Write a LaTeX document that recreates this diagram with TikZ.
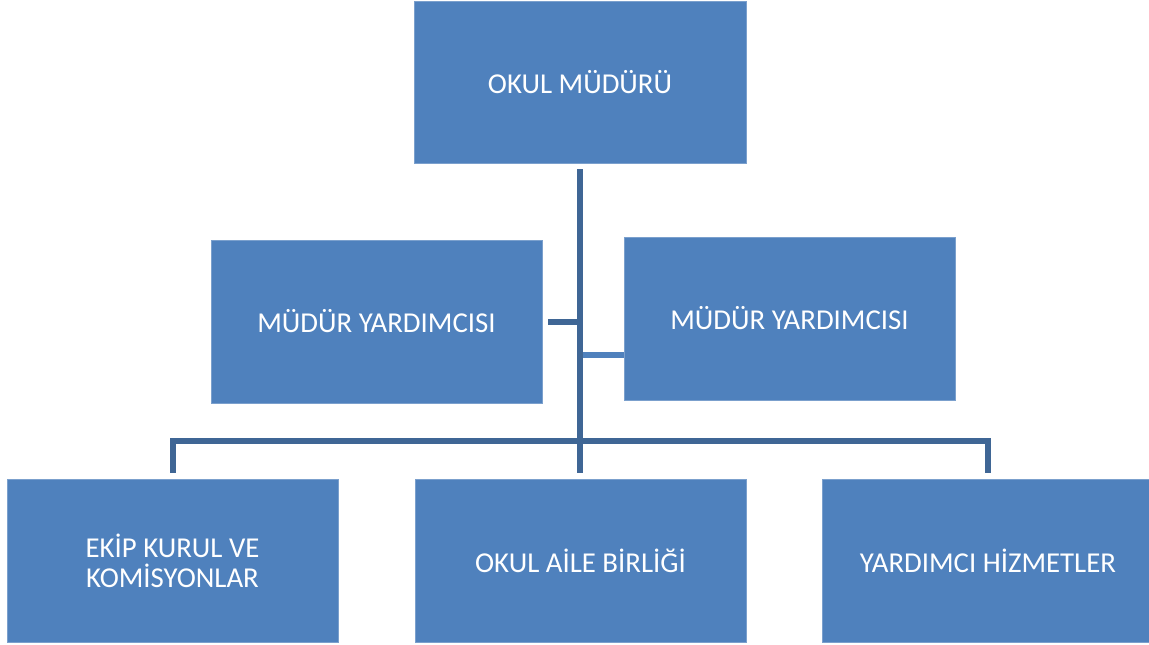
\documentclass[tikz,border=0pt]{standalone}
\usepackage{fontspec}
\setmainfont{Carlito}
\usetikzlibrary{calc}
\definecolor{boxblue}{HTML}{4F81BD}
\definecolor{lineblue}{HTML}{3F6695}
\tikzset{
    unit/.style={rectangle, fill=boxblue, draw=boxblue!75!white, line width=0.8pt,
        inner sep=0pt, minimum width=331pt, minimum height=163pt,
        text=white, align=center, font=\fontsize{28.8}{30}\selectfont},
    link/.style={lineblue, line width=6pt},
}
\begin{document}
\begin{tikzpicture}[x=1pt, y=-1pt]
        \useasboundingbox (0,0) rectangle (1149,645);

        \node[unit, minimum width=332pt, minimum height=162pt] (mudur) at (580,82) {OKUL MÜDÜRÜ};
        \node[unit] (yrdsol) at (376.5,321.5) {MÜDÜR YARDIMCISI};
        \node[unit] (yrdsag) at (789.5,318.5) {MÜDÜR YARDIMCISI};

        \node[unit] (ekip) at (172.5,560.5) {EKİP KURUL VE\\KOMİSYONLAR};
        \node[unit] (aile) at (580.5,560.5) {OKUL AİLE BİRLİĞİ};
        \node[unit] (hizmet) at (988,560.5) {YARDIMCI HİZMETLER};

        % trunk end points
        \coordinate (govdeust) at ([yshift=-6pt]mudur.south);
        \coordinate (govdealt) at ([yshift=6pt]aile.north -| govdeust);
        \coordinate (hat) at ($(govdeust |- aile.north)+(0,-37.5)$);
        \coordinate (kol) at ($(yrdsag.west)+(0,36.5)$);

        % stub to the right deputy, lighter
        \draw [boxblue, line width=6pt] (kol) -- (kol -| govdeust);

        \draw [link] (govdeust) -- (govdealt);
        \draw [link] ([xshift=6pt]yrdsol.east) -- (yrdsol.east -| govdeust);

        % bus to the bottom row
        \draw [link] ([yshift=6pt]ekip.north) |- (hat) -| ([yshift=6pt]hizmet.north);
\end{tikzpicture}
\end{document}
